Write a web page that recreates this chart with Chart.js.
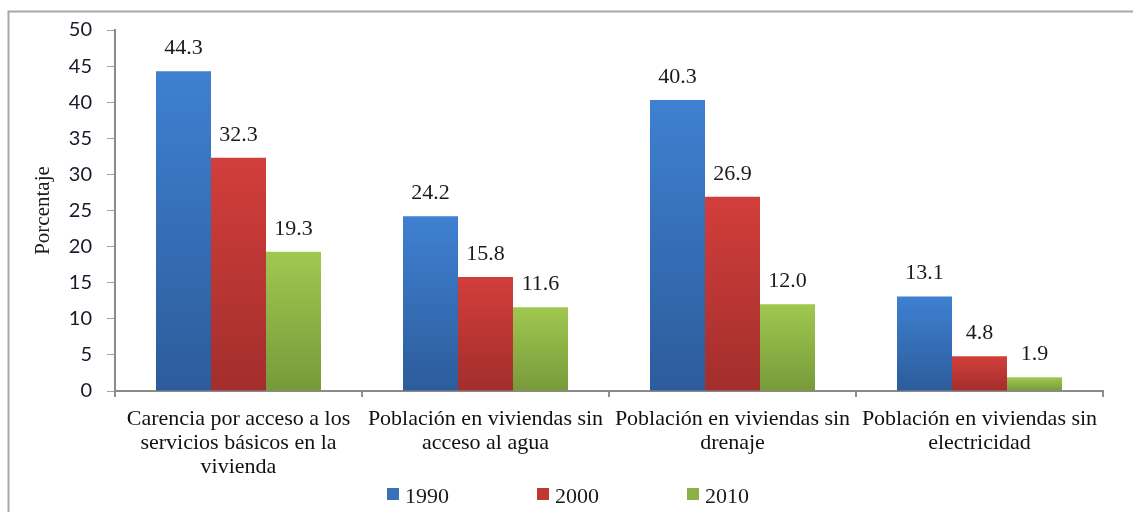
<!DOCTYPE html>
<html>
<head>
<meta charset="utf-8">
<script src="https://cdn.jsdelivr.net/npm/chart.js@4.4.1/dist/chart.umd.min.js"></script>
<style>
  html, body { margin: 0; padding: 0; background: #ffffff; }
  #wrap { width: 1133px; height: 512px; }
</style>
</head>
<body>
<div id="wrap"><canvas id="c" width="1133" height="512"></canvas></div>
<script>
const categories = [
  ["Carencia por acceso a los", "servicios básicos en la", "vivienda"],
  ["Población en viviendas sin", "acceso al agua"],
  ["Población en viviendas sin", "drenaje"],
  ["Población en viviendas sin", "electricidad"]
];
const seriesNames = ["1990", "2000", "2010"];
const values1990 = [44.3, 24.2, 40.3, 13.1];
const values2000 = [32.3, 15.8, 26.9, 4.8];
const values2010 = [19.3, 11.6, 12.0, 1.9];
const yTicks = [0, 5, 10, 15, 20, 25, 30, 35, 40, 45, 50];

const palette = [
  { top: '#3f80d2', bottom: '#2c5c9a', legend: '#3a70b8' },
  { top: '#d23e3b', bottom: '#a22e2c', legend: '#c0392f' },
  { top: '#a0c850', bottom: '#779a3a', legend: '#8cb147' }
];

function barGradient(i) {
  return function (context) {
    const chart = context.chart;
    const { ctx, chartArea, scales } = chart;
    if (!chartArea || context.type !== 'data') return palette[i].top;
    const v = context.raw;
    const yTop = scales.y.getPixelForValue(v);
    const yBot = scales.y.getPixelForValue(0);
    if (!isFinite(yTop) || !isFinite(yBot) || yTop === yBot) return palette[i].top;
    const g = ctx.createLinearGradient(0, yTop, 0, yBot);
    g.addColorStop(0, palette[i].top);
    g.addColorStop(1, palette[i].bottom);
    return g;
  };
}

const seriesValues = [values1990, values2000, values2010];
const datasets = seriesNames.map((name, i) => ({
  label: name,
  data: seriesValues[i],
  backgroundColor: barGradient(i),
  borderWidth: 0,
  categoryPercentage: 0.668,
  barPercentage: 1.0
}));

const SERIF = '"Liberation Serif", "Times New Roman", serif';

const decorPlugin = {
  id: 'decor',
  beforeDraw(chart) {
    const ctx = chart.ctx;
    ctx.save();
    ctx.fillStyle = '#ffffff';
    ctx.fillRect(0, 0, chart.width, chart.height);
    ctx.strokeStyle = '#a8a8a8';
    ctx.lineWidth = 2;
    ctx.beginPath();
    ctx.moveTo(8.5, chart.height + 2);
    ctx.lineTo(8.5, 11.5);
    ctx.lineTo(chart.width + 2, 11.5);
    ctx.stroke();
    ctx.restore();
  },
  afterDatasetsDraw(chart) {
    const ctx = chart.ctx;
    ctx.save();
    ctx.font = '22px ' + SERIF;
    ctx.fillStyle = '#1a1a1a';
    ctx.textAlign = 'center';
    ctx.textBaseline = 'alphabetic';
    chart.data.datasets.forEach((ds, di) => {
      const meta = chart.getDatasetMeta(di);
      meta.data.forEach((el, idx) => {
        const v = ds.data[idx];
        ctx.fillText(v.toFixed(1), el.x, el.y - 17);
      });
    });
    ctx.restore();
  },
  afterDraw(chart) {
    const ctx = chart.ctx;
    ctx.save();
    ctx.font = '22px ' + SERIF;
    ctx.textBaseline = 'alphabetic';
    ctx.textAlign = 'left';
    const startX = 387, step = 150, boxY = 488, box = 12;
    chart.data.datasets.forEach((ds, i) => {
      const x = startX + i * step;
      ctx.fillStyle = palette[i].legend;
      ctx.fillRect(x, boxY, box, box);
      ctx.fillStyle = '#1a1a1a';
      ctx.fillText(ds.label, x + box + 6, 503);
    });
    ctx.restore();
  }
};

new Chart(document.getElementById('c'), {
  type: 'bar',
  data: { labels: categories, datasets },
  options: {
    responsive: false,
    animation: false,
    devicePixelRatio: 1,
    layout: { padding: { left: 8, top: 30, right: 30, bottom: 0 } },
    plugins: {
      legend: { display: false },
      tooltip: { enabled: false }
    },
    scales: {
      x: {
        afterFit(scale) { scale.height = 121; },
        grid: {
          display: true,
          drawOnChartArea: false,
          drawTicks: true,
          tickLength: 6,
          color: '#909090',
          lineWidth: 2,
          offset: true
        },
        border: { display: true, color: '#8a8a8a', width: 2 },
        ticks: {
          color: '#111111',
          font: { family: SERIF, size: 22, lineHeight: 1.1 },
          padding: 10,
          maxRotation: 0,
          autoSkip: false
        }
      },
      y: {
        min: 0,
        max: 50,
        afterFit(scale) { scale.width = 107; },
        afterBuildTicks(scale) { scale.ticks = yTicks.map(v => ({ value: v })); },
        grid: {
          display: true,
          drawOnChartArea: false,
          drawTicks: true,
          tickLength: 8,
          color: '#a0a0a0',
          lineWidth: 1
        },
        border: { display: true, color: '#8a8a8a', width: 2 },
        ticks: {
          color: '#1a1a2a',
          font: { family: 'Lato, "Open Sans", sans-serif', size: 20 },
          padding: 15
        },
        title: {
          display: true,
          text: 'Porcentaje',
          color: '#1a1a1a',
          font: { family: SERIF, size: 21, lineHeight: 1.2 },
          padding: { top: 23, bottom: 0 }
        }
      }
    }
  },
  plugins: [decorPlugin]
});
</script>
</body>
</html>
